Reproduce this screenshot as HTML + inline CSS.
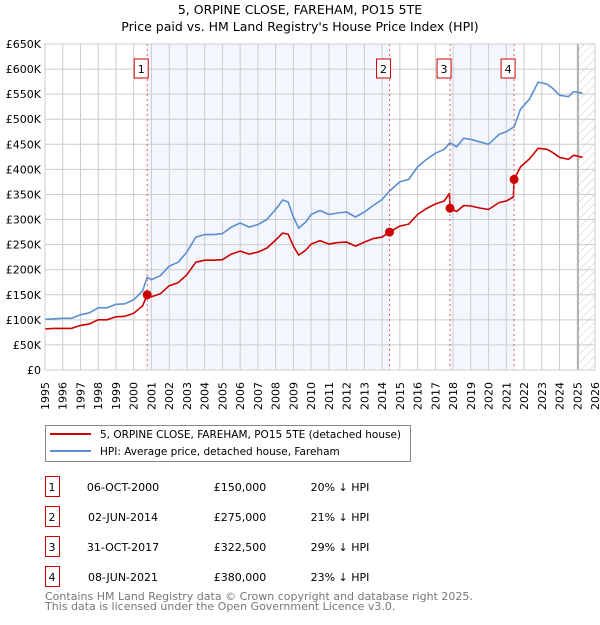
<!DOCTYPE html>
<html><head><meta charset="utf-8"><style>
body{margin:0;background:#fff;font-family:"Liberation Sans","DejaVu Sans",sans-serif;}
svg text{font-family:"DejaVu Sans","Liberation Sans",sans-serif;}
</style></head><body>
<svg id="c" width="600" height="620" viewBox="0 0 600 620" xmlns="http://www.w3.org/2000/svg">
<defs><pattern id="hatch" width="6" height="6" patternUnits="userSpaceOnUse" patternTransform="rotate(45)"><line x1="0" y1="0" x2="0" y2="6" stroke="#bbb" stroke-width="0.8"/></pattern></defs>
<text x="300" y="14" text-anchor="middle" font-size="12.5" fill="#000">5, ORPINE CLOSE, FAREHAM, PO15 5TE</text>
<text x="300" y="31" text-anchor="middle" font-size="12.5" fill="#000">Price paid vs. HM Land Registry's House Price Index (HPI)</text>
<g id="plot"></g>
<g>
<rect x="45.5" y="425.5" width="365" height="36" fill="#fff" stroke="#888"/>
<line x1="50" y1="434" x2="91" y2="434" stroke="#cc0000" stroke-width="2"/>
<text x="100" y="438" font-size="10.5">5, ORPINE CLOSE, FAREHAM, PO15 5TE (detached house)</text>
<line x1="50" y1="451" x2="91" y2="451" stroke="#5b8ed0" stroke-width="2"/>
<text x="100" y="455" font-size="10.5">HPI: Average price, detached house, Fareham</text>
</g>
<g id="table"></g>
<text x="45" y="600" font-size="11" fill="#777">Contains HM Land Registry data © Crown copyright and database right 2025.</text>
<text x="45" y="610" font-size="11" fill="#777">This data is licensed under the Open Government Licence v3.0.</text>
</svg>
<script>
const hpiYears=[1995.0,1995.5,1996.0,1996.5,1997.0,1997.5,1998.0,1998.5,1999.0,1999.5,2000.0,2000.5,2000.76,2001.0,2001.5,2002.0,2002.5,2003.0,2003.5,2004.0,2004.5,2005.0,2005.5,2006.0,2006.5,2007.0,2007.5,2008.0,2008.4,2008.7,2009.0,2009.3,2009.7,2010.0,2010.5,2011.0,2011.5,2012.0,2012.5,2013.0,2013.5,2014.0,2014.42,2015.0,2015.5,2016.0,2016.5,2017.0,2017.5,2017.83,2018.2,2018.6,2019.0,2019.5,2020.0,2020.3,2020.6,2021.0,2021.44,2021.8,2022.3,2022.8,2023.3,2023.6,2024.0,2024.5,2024.8,2025.3];
const hpiValues=[101,102,103,103,110,114,124,124,131,132,140,158,185,180,188,207,215,235,265,270,270,272,285,293,285,290,300,320,339,335,305,283,295,310,318,310,313,315,305,315,328,340,357,375,380,405,420,432,440,453,445,462,460,455,450,460,470,475,485,520,540,574,570,562,548,545,555,552];
const priceYears=[1995.0,1995.5,1996.0,1996.5,1997.0,1997.5,1998.0,1998.5,1999.0,1999.5,2000.0,2000.5,2000.76,2001.0,2001.5,2002.0,2002.5,2003.0,2003.5,2004.0,2004.5,2005.0,2005.5,2006.0,2006.5,2007.0,2007.5,2008.0,2008.4,2008.7,2009.0,2009.3,2009.7,2010.0,2010.5,2011.0,2011.5,2012.0,2012.5,2013.0,2013.5,2014.0,2014.42,2015.0,2015.5,2016.0,2016.5,2017.0,2017.5,2017.8,2017.83,2018.2,2018.6,2019.0,2019.5,2020.0,2020.3,2020.6,2021.0,2021.4,2021.44,2021.8,2022.3,2022.8,2023.3,2023.6,2024.0,2024.5,2024.8,2025.3];
const priceValues=[82,83,83,83,89,92,100,100,106,107,113,128,150,146,152,168,174,190,215,219,219,220,231,237,231,235,243,259,273,271,247,229,239,251,258,251,254,255,247,255,262,265,275,287,291,310,322,331,337,352,322.5,316,328,327,323,320,327,334,337,345,380,405,421,442,440,434,424,420,428,424];
const saleLabels=["1","2","3","4"];
const saleYears=[2000.76,2014.42,2017.83,2021.44];
const salePrices=[150,275,322.5,380];
const saleDates=["06-OCT-2000","02-JUN-2014","31-OCT-2017","08-JUN-2021"];
const salePriceText=["£150,000","£275,000","£322,500","£380,000"];
const saleDiffText=["20% ↓ HPI","21% ↓ HPI","29% ↓ HPI","23% ↓ HPI"];
const yTicks=[0,50,100,150,200,250,300,350,400,450,500,550,600,650];
const yearTicks=[];for(let y=1995;y<=2026;y++)yearTicks.push(y);

const NS="http://www.w3.org/2000/svg";
const X0=45,X1=595,Y0=370,Y1=44;
const xs=y=>X0+(y-1995)/(2026-1995)*(X1-X0);
const ys=v=>Y0-v/650*(Y0-Y1);
const plot=document.getElementById('plot');
function mk(tag,attrs,parent){const e=document.createElementNS(NS,tag);for(const k in attrs)e.setAttribute(k,attrs[k]);(parent||plot).appendChild(e);return e;}
for(let i=0;i<saleYears.length;i+=2){
 const r=mk('rect',{x:xs(saleYears[i]),y:Y1,width:xs(saleYears[i+1])-xs(saleYears[i]),height:Y0-Y1,fill:'#eef3fc',opacity:0.7});
 
 
}
const hz=mk('rect',{x:xs(2025.05),y:Y1,width:X1-xs(2025.05),height:Y0-Y1,fill:'url(#hatch)'});


yearTicks.forEach(y=>{const l=mk('line',{x1:xs(y),x2:xs(y),y1:Y1,y2:Y0,stroke:'#ccc','stroke-width':1});
 
 
 const t=mk('text',{x:0,y:0,'font-size':11,'text-anchor':'end',transform:`translate(${xs(y)+4},${Y0+12}) rotate(-90)`});
 
 
 t.textContent=y;});
yTicks.forEach(v=>{const l=mk('line',{x1:X0,x2:X1,y1:ys(v),y2:ys(v),stroke:'#ccc','stroke-width':1});
 
 
 const t=mk('text',{x:X0-4,y:ys(v)+4,'font-size':11,'text-anchor':'end'});
 
 
 t.textContent=v===0?'£0':'£'+v+'K';});
const el=mk('line',{x1:xs(2025.05),x2:xs(2025.05),y1:Y1,y2:Y0,stroke:'#999','stroke-width':1.2});


function line(xsA,vs,col,name){const d=xsA.map((y,i)=>(i?'L':'M')+xs(y).toFixed(1)+','+ys(vs[i]).toFixed(1)).join('');
 const p=mk('path',{d:d,fill:'none',stroke:col,'stroke-width':1.6,'stroke-linejoin':'round'});
 
 }
line(hpiYears,hpiValues,'#5b8ed0','hpi-line');
line(priceYears,priceValues,'#cc0000','price-line');
saleYears.forEach((y,i)=>{
 const v=mk('line',{x1:xs(y),x2:xs(y),y1:Y1,y2:Y0,stroke:'#e06060','stroke-width':1,'stroke-dasharray':'2,3'});
 
 
 const c=mk('circle',{cx:xs(y),cy:ys(salePrices[i]),r:4.5,fill:'#cc0000'});
 
 
 const b=mk('rect',{x:xs(y)-13,y:59,width:14,height:19,fill:'#fff',stroke:'#cc0000'});
 
 
 const t=mk('text',{x:xs(y)-6,y:73,'font-size':11,'text-anchor':'middle'});
 
 
 t.textContent=saleLabels[i];
});
const fr=mk('rect',{x:X0,y:Y1,width:X1-X0,height:Y0-Y1,fill:'none',stroke:'#ccc'});


const tb=document.getElementById('table');
saleLabels.forEach((s,i)=>{const yy=476+i*30;
 const b=mk('rect',{x:45.5,y:yy+0.5,width:14,height:20,fill:'#fff',stroke:'#cc0000'},tb);
 
 
 const cells=[[52,s,'middle'],[123,saleDates[i],'middle'],[240,salePriceText[i],'middle'],[340,saleDiffText[i],'middle']];
 cells.forEach((c,j)=>{const t=mk('text',{x:c[0],y:yy+15,'font-size':11,'text-anchor':c[2]},tb);
  
  
  t.textContent=c[1];});
});
</script>
</body></html>
